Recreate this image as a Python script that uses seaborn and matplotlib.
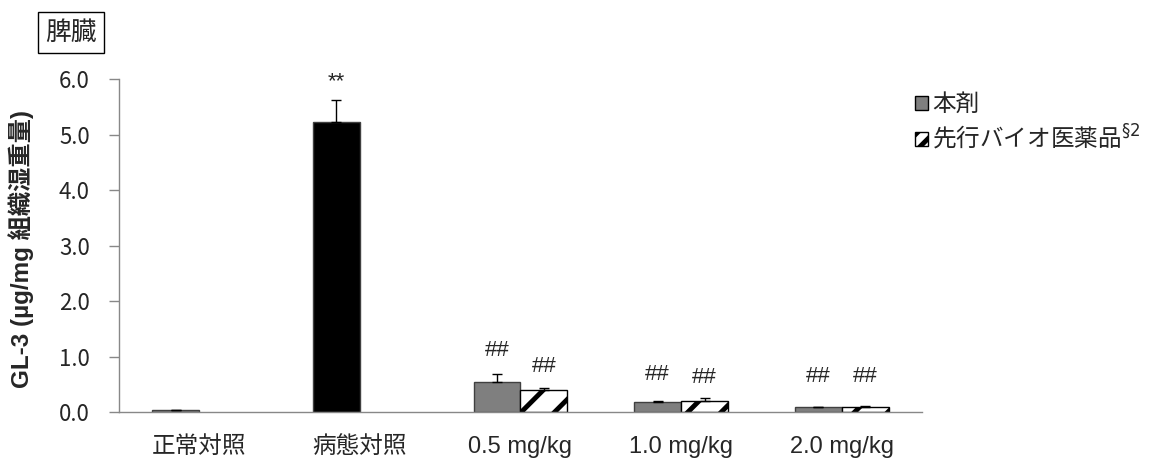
import numpy as np
import pandas as pd
import matplotlib
matplotlib.use("Agg")
import matplotlib.pyplot as plt
import seaborn as sns
from matplotlib.patches import Patch
from matplotlib.container import BarContainer

groups = ["正常対照", "病態対照", "0.5 mg/kg", "1.0 mg/kg", "2.0 mg/kg"]
series = ["本剤", "先行バイオ医薬品"]
ours_mean = [0.03, 5.23, 0.535, 0.186, 0.09]
ours_sd = [0.005, 0.39, 0.145, 0.012, 0.008]
ref_mean = [np.nan, np.nan, 0.39, 0.20, 0.09]
ref_sd = [np.nan, np.nan, 0.04, 0.05, 0.012]
ours_marks = ["", "**", "##", "##", "##"]
ref_marks = ["", "", "##", "##", "##"]
ours_mark_y = [None, 5.95, 1.10, 0.67, 0.64]
ref_mark_y = [None, None, 0.82, 0.63, 0.64]

df = pd.DataFrame({
    "group": groups * 2,
    "series": [series[0]] * 5 + [series[1]] * 5,
    "value": ours_mean + ref_mean,
    "sd": ours_sd + ref_sd,
})

sns.set_style("white")
plt.rcParams["font.family"] = ["Noto Sans CJK JP", "DejaVu Sans"]
plt.rcParams["hatch.linewidth"] = 3.5
latin = ["Liberation Sans", "Noto Sans CJK JP"]

fig = plt.figure(figsize=(11.49, 4.58), dpi=100)
ax = fig.add_axes([0.1036, 0.1004, 0.6988, 0.7271])

sns.barplot(data=df.dropna(subset=["value"]), x="group", y="value", hue="series",
            order=groups, hue_order=series, dodge=True, width=0.585,
            errorbar=None, legend=False, ax=ax)

gray = "#7f7f7f"
bar_conts = [c for c in ax.containers if isinstance(c, BarContainer)]
for i, cont in enumerate(bar_conts):
    for bar in cont:
        g = int(round(bar.get_x() + bar.get_width() / 2))
        if i == 0:
            fc = "black" if g == 1 else gray
            bar.set_facecolor(fc)
            bar.set_edgecolor("#404040")
            bar.set_linewidth(1)
            mean, sd = ours_mean[g], ours_sd[g]
            mark, my = ours_marks[g], ours_mark_y[g]
        else:
            bar.set_facecolor("white")
            bar.set_edgecolor("black")
            bar.set_hatch("/")
            bar.set_linewidth(1)
            mean, sd = ref_mean[g], ref_sd[g]
            mark, my = ref_marks[g], ref_mark_y[g]
        xc = bar.get_x() + bar.get_width() / 2
        ax.errorbar(xc, mean, yerr=[[0], [sd]], fmt="none", ecolor="black",
                    elinewidth=1, capsize=3.3, capthick=1, zorder=3)
        if mark:
            ax.text(xc, my, mark, ha="center", va="center", fontsize=16,
                    family=latin)

ax.set_xlim(-0.5, 4.5)
ax.set_ylim(0, 6.0)
ax.set_yticks(np.arange(0, 6.01, 1.0))
ax.set_yticklabels([f"{v:.1f}" for v in np.arange(0, 6.01, 1.0)], fontsize=16)
ax.set_xticks(range(len(groups)))
ax.set_xticklabels(groups, fontsize=17, family=latin)
ax.set_xticks(np.arange(-0.5, 4.6, 1.0), minor=True)
ax.tick_params(axis="x", which="major", length=0, pad=17)
ax.tick_params(axis="x", which="minor", length=7, color="#888888", width=1)
ax.tick_params(axis="y", length=7, color="#888888", width=1, left=True, pad=14)
ax.set_xlabel("")
ax.set_ylabel("GL-3 (µg/mg 組織湿重量)", fontsize=17.5, fontweight="bold",
              family=latin)
ax.yaxis.set_label_coords(-0.106, 0.49)

for s in ["top", "right"]:
    ax.spines[s].set_visible(False)
ax.spines["left"].set_color("#888888")
ax.spines["bottom"].set_color("#888888")
ax.spines["left"].set_linewidth(1)
ax.spines["bottom"].set_linewidth(1)

handles = [Patch(facecolor=gray, edgecolor="black", linewidth=1),
           Patch(facecolor="white", edgecolor="black", hatch="//", linewidth=1)]
labels = ["本剤", "先行バイオ医薬品$^{\\S2}$"]
fig.legend(handles, labels, loc="upper left", bbox_to_anchor=(0.7963, 0.797),
           frameon=False, fontsize=17, handlelength=0.55, handleheight=0.55,
           handletextpad=0.18, labelspacing=0.3, borderpad=0, borderaxespad=0)

fig.text(0.0618, 0.929, "脾臓", ha="center", va="center", fontsize=18.5,
         bbox=dict(facecolor="white", edgecolor="black", boxstyle="square,pad=0.3"))

fig.savefig("out.png", dpi=100)
